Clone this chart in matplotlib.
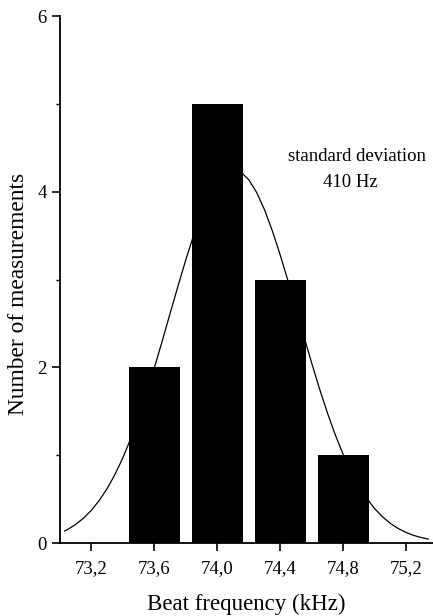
import matplotlib
matplotlib.use('Agg')
import matplotlib.pyplot as plt
from matplotlib.ticker import MultipleLocator, FixedLocator

plt.rcParams['font.family'] = ['Liberation Serif', 'DejaVu Serif']

# histogram of beat frequency measurements
freq = [73.6, 74.0, 74.4, 74.8]
counts = [2, 5, 3, 1]
bar_width = 0.325

# fitted gaussian
curve_x = [73.03, 73.05, 73.1, 73.15, 73.2, 73.25, 73.3, 73.35, 73.4, 73.45,
           73.5, 73.55, 73.6, 73.65, 73.7, 73.75, 73.8, 73.85, 73.9, 73.95,
           74.0, 74.05, 74.1, 74.15, 74.2, 74.25, 74.3, 74.35, 74.4, 74.45,
           74.5, 74.55, 74.6, 74.65, 74.7, 74.75, 74.8, 74.85, 74.9, 74.95,
           75.0, 75.05, 75.1, 75.15, 75.2, 75.25, 75.3, 75.34]
curve_y = [0.138, 0.156, 0.212, 0.284, 0.374, 0.486, 0.621, 0.783, 0.973, 1.191,
           1.436, 1.706, 1.998, 2.303, 2.617, 2.927, 3.229, 3.508, 3.755, 3.961,
           4.115, 4.213, 4.25, 4.223, 4.135, 3.989, 3.792, 3.550, 3.274, 2.976,
           2.665, 2.351, 2.044, 1.750, 1.477, 1.227, 1.006, 0.811, 0.646, 0.506,
           0.390, 0.297, 0.222, 0.164, 0.119, 0.085, 0.060, 0.045]

xticks = [73.2, 73.6, 74.0, 74.4, 74.8, 75.2]
xticklabels = ['73,2', '73,6', '74,0', '74,4', '74,8', '75,2']

fig = plt.figure(figsize=(4.33, 6.16), dpi=100)
ax = fig.add_axes([0.1386, 0.1185, 0.8614, 0.8555])

ax.plot(curve_x, curve_y, color='black', lw=0.9, zorder=1)
ax.bar(freq, counts, width=bar_width, color='black', zorder=2)

ax.set_xlim(73.0, 75.37)
ax.set_ylim(0, 6)
ax.spines['top'].set_visible(False)
ax.spines['right'].set_visible(False)
ax.spines['left'].set_linewidth(1.3)
ax.spines['bottom'].set_linewidth(1.3)

ax.set_xticks(xticks)
ax.set_xticklabels(xticklabels)
ax.yaxis.set_major_locator(FixedLocator([0, 2, 4, 6]))
ax.yaxis.set_minor_locator(MultipleLocator(1))
ax.tick_params(axis='both', which='major', length=6, width=1.2, labelsize=13.5, direction='out')
ax.tick_params(axis='y', which='minor', length=3, width=1.0)
ax.tick_params(axis='x', pad=6)

ax.set_xlabel('Beat frequency (kHz)', fontsize=16.5, labelpad=12)
ax.set_ylabel('Number of measurements', fontsize=16.8)
ax.yaxis.label.set_va('center')
ax.yaxis.set_label_coords(-0.11, 0.473)

ax.text(74.889, 4.40, 'standard deviation', ha='center', va='center', fontsize=13.5)
ax.text(74.845, 4.10, '410 Hz', ha='center', va='center', fontsize=13.5)

fig.savefig('out.png', dpi=100)
